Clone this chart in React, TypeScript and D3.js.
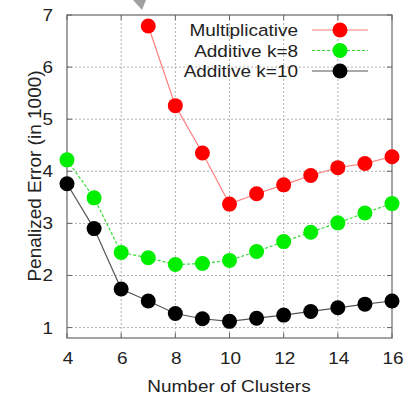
import React, { useEffect, useRef } from "react";
import * as d3 from "d3";

const multClusters = [7, 8, 9, 10, 11, 12, 13, 14, 15, 16];
const multValues = [6.79, 5.26, 4.35, 3.37, 3.57, 3.74, 3.92, 4.07, 4.15, 4.28];

const addClusters = [4, 5, 6, 7, 8, 9, 10, 11, 12, 13, 14, 15, 16];
const add8Values = [4.22, 3.49, 2.44, 2.34, 2.21, 2.23, 2.29, 2.46, 2.65, 2.83, 3.01, 3.2, 3.38];
const add10Values = [3.76, 2.9, 1.74, 1.51, 1.27, 1.17, 1.12, 1.18, 1.24, 1.31, 1.38, 1.45, 1.51];

const xTicks = [4, 6, 8, 10, 12, 14, 16];
const yTicks = [1, 2, 3, 4, 5, 6, 7];

const series = [
  { name: "Multiplicative", xs: multClusters, ys: multValues, fill: "#ff0000", line: "#ff7f7f", dash: null },
  { name: "Additive k=8", xs: addClusters, ys: add8Values, fill: "#00ee00", line: "#33dd33", dash: "3,2" },
  { name: "Additive k=10", xs: addClusters, ys: add10Values, fill: "#000000", line: "#555555", dash: null },
];

const App = () => {
  const svgRef = useRef(null);

  useEffect(() => {
    const W = 416, H = 396;
    const left = 67, right = 392, top = 15, bottom = 338;
    const font = "Liberation Sans, Arial, sans-serif";
    const stretch = 1.15;

    const svg = d3.select(svgRef.current).attr("width", W).attr("height", H);
    svg.selectAll("*").remove();

    svg.append("rect").attr("width", W).attr("height", H).attr("fill", "#fff");

    const x = d3.scaleLinear().domain([4, 16]).range([left, right]);
    const y = d3.scaleLinear().domain([0.8, 7]).range([bottom, top]);

    // grid
    const grid = svg.append("g").attr("stroke", "#b0b0b0").attr("stroke-width", 1).attr("stroke-dasharray", "2,2");
    grid.selectAll(".gx")
      .data(xTicks.filter(d => d > 4 && d < 16))
      .enter().append("line")
      .attr("x1", d => x(d)).attr("x2", d => x(d))
      .attr("y1", top).attr("y2", bottom);
    grid.selectAll(".gy")
      .data(yTicks.filter(d => d < 7))
      .enter().append("line")
      .attr("x1", left).attr("x2", right)
      .attr("y1", d => y(d)).attr("y2", d => y(d));

    // ticks inside the frame
    const ticks = svg.append("g").attr("stroke", "#666").attr("stroke-width", 1);
    xTicks.forEach(t => {
      ticks.append("line").attr("x1", x(t)).attr("x2", x(t)).attr("y1", bottom).attr("y2", bottom - 5);
      ticks.append("line").attr("x1", x(t)).attr("x2", x(t)).attr("y1", top).attr("y2", top + 5);
    });
    yTicks.forEach(t => {
      ticks.append("line").attr("x1", left).attr("x2", left + 5).attr("y1", y(t)).attr("y2", y(t));
      ticks.append("line").attr("x1", right).attr("x2", right - 5).attr("y1", y(t)).attr("y2", y(t));
    });

    svg.append("rect")
      .attr("x", left).attr("y", top)
      .attr("width", right - left).attr("height", bottom - top)
      .attr("fill", "none").attr("stroke", "#666").attr("stroke-width", 1.2);

    // tick labels
    yTicks.forEach(t => {
      svg.append("text")
        .attr("transform", `translate(53,${y(t) + 6}) scale(${stretch},1)`)
        .attr("text-anchor", "end")
        .attr("font-family", font).attr("font-size", 16.5).attr("fill", "#222")
        .text(t);
    });
    xTicks.forEach(t => {
      svg.append("text")
        .attr("transform", `translate(${x(t) + 1},364) scale(${stretch},1)`)
        .attr("text-anchor", "middle")
        .attr("font-family", font).attr("font-size", 16.5).attr("fill", "#222")
        .text(t);
    });

    svg.append("text")
      .attr("transform", `translate(229,392) scale(${stretch},1)`)
      .attr("text-anchor", "middle")
      .attr("font-family", font).attr("font-size", 16.5).attr("fill", "#222")
      .text("Number of Clusters");

    svg.append("text")
      .attr("transform", "translate(41,176) rotate(-90)")
      .attr("text-anchor", "middle")
      .attr("font-family", font).attr("font-size", 19).attr("fill", "#222")
      .text("Penalized Error (in 1000)");

    // series
    const line = d3.line().x(d => x(d[0])).y(d => y(d[1]));
    series.forEach(s => {
      const pts = s.xs.map((v, i) => [v, s.ys[i]]);
      svg.append("path")
        .datum(pts)
        .attr("d", line)
        .attr("fill", "none")
        .attr("stroke", s.line)
        .attr("stroke-width", 1.2)
        .attr("stroke-dasharray", s.dash);
      svg.append("g").selectAll("circle")
        .data(pts)
        .enter().append("circle")
        .attr("cx", d => x(d[0]))
        .attr("cy", d => y(d[1]))
        .attr("r", 7.5)
        .attr("fill", s.fill);
    });

    // legend
    series.forEach((s, i) => {
      const ly = 30 + i * 20.5;
      svg.append("text")
        .attr("transform", `translate(298,${ly + 6}) scale(${stretch},1)`)
        .attr("text-anchor", "end")
        .attr("font-family", font).attr("font-size", 16.5).attr("fill", "#222")
        .text(s.name);
      svg.append("line")
        .attr("x1", 312).attr("x2", 368).attr("y1", ly).attr("y2", ly)
        .attr("stroke", s.line).attr("stroke-width", 1.2)
        .attr("stroke-dasharray", s.dash);
      svg.append("circle").attr("cx", 340).attr("cy", ly).attr("r", 7.5).attr("fill", s.fill);
    });

    // fragment of an annotation arrow at the top
    svg.append("polygon")
      .attr("points", "133,0 146,0 142,10")
      .attr("fill", "#a0a0a0");
  }, []);

  return <svg ref={svgRef} style={{ position: "absolute", left: 0, top: 0 }}></svg>;
};

export default App;
